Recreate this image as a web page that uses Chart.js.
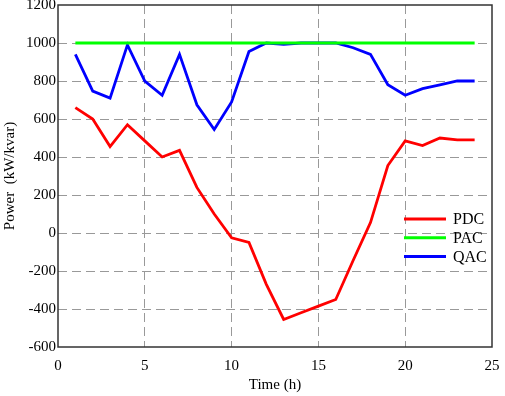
<!DOCTYPE html>
<html>
<head>
<meta charset="utf-8">
<script src="https://cdn.jsdelivr.net/npm/chart.js@4/dist/chart.umd.min.js"></script>
<style>
html,body{margin:0;padding:0;background:#fff;}
#wrap{width:505px;height:396px;}
</style>
</head>
<body>
<div id="wrap"><canvas id="c" width="505" height="396"></canvas></div>
<script>
const hours = [1,2,3,4,5,6,7,8,9,10,11,12,13,14,15,16,17,18,19,20,21,22,23,24];
const pdc = [660,600,455,570,485,400,435,240,100,-25,-50,-270,-455,-420,-385,-350,-145,55,355,485,460,500,490,490];
const pac = [1000,1000,1000,1000,1000,1000,1000,1000,1000,1000,1000,1000,1000,1000,1000,1000,1000,1000,1000,1000,1000,1000,1000,1000];
const qac = [940,747,710,990,800,725,940,675,545,690,955,1000,993,1000,1000,1000,975,940,780,725,760,780,800,800];
const seriesNames = ['PDC','PAC','QAC'];
const seriesColors = ['#ff0000','#00ff00','#0000ff'];
const xTicks = [0,5,10,15,20,25];
const yTicks = [-600,-400,-200,0,200,400,600,800,1000,1200];

const FONT = '"Liberation Serif","Times New Roman",serif';

function pts(vals){ return hours.map((h,i)=>({x:h,y:vals[i]})); }

const frame = {
  id:'frame',
  afterDatasetsDraw(chart){
    const a = chart.chartArea, ctx = chart.ctx;
    ctx.save();
    ctx.strokeStyle = '#333';
    ctx.lineWidth = 1.5;
    ctx.setLineDash([]);
    ctx.strokeRect(a.left, a.top, a.right-a.left, a.bottom-a.top);
    ctx.font = '16px ' + FONT;
    ctx.textBaseline = 'middle';
    ctx.textAlign = 'left';
    const x0 = 404, x1 = 446, y0 = 219, dy = 18.7;
    chart.data.datasets.forEach((ds,i)=>{
      const y = y0 + i*dy;
      ctx.strokeStyle = ds.borderColor;
      ctx.lineWidth = 3;
      ctx.beginPath(); ctx.moveTo(x0,y); ctx.lineTo(x1,y); ctx.stroke();
      ctx.fillStyle = '#000';
      ctx.fillText(ds.label, 453, y+1);
    });
    ctx.restore();
  }
};

new Chart(document.getElementById('c'), {
  type:'line',
  data:{
    datasets:[
      {label:seriesNames[0], data:pts(pdc), borderColor:seriesColors[0], borderWidth:2.8, pointRadius:0, tension:0, fill:false},
      {label:seriesNames[1], data:pts(pac), borderColor:seriesColors[1], borderWidth:2.8, pointRadius:0, tension:0, fill:false},
      {label:seriesNames[2], data:pts(qac), borderColor:seriesColors[2], borderWidth:2.8, pointRadius:0, tension:0, fill:false}
    ]
  },
  options:{
    responsive:false,
    animation:false,
    devicePixelRatio:1,
    layout:{padding:{left:0,right:13,top:5,bottom:0}},
    plugins:{legend:{display:false}, tooltip:{enabled:false}},
    scales:{
      x:{
        type:'linear', min:0, max:25,
        afterBuildTicks(s){ s.ticks = xTicks.map(v=>({value:v})); },
        afterFit(s){ s.height = 49; s.paddingLeft = 0; s.paddingRight = 0; },
        grid:{
          drawTicks:false, tickLength:0,
          color(c){ return (c.tick && (c.tick.value===0||c.tick.value===25)) ? 'rgba(0,0,0,0)' : '#999999'; },
          lineWidth:1
        },
        border:{display:false, dash:[9,5]},
        ticks:{color:'#000', font:{family:FONT,size:15}, padding:10, maxRotation:0, callback:(v)=>String(v)},
        title:{display:true, text:'Time (h)', color:'#000', font:{family:FONT,size:15}, padding:{top:0,bottom:2}}
      },
      y:{
        type:'linear', min:-600, max:1200,
        afterBuildTicks(s){ s.ticks = yTicks.map(v=>({value:v})); },
        afterFit(s){ s.width = 58; s.paddingTop = 0; s.paddingBottom = 0; },
        grid:{
          drawTicks:false, tickLength:0,
          color(c){ return (c.tick && (c.tick.value===-600||c.tick.value===1200)) ? 'rgba(0,0,0,0)' : '#999999'; },
          lineWidth:1
        },
        border:{display:false, dash:[9,5]},
        ticks:{color:'#000', font:{family:FONT,size:15}, padding:2, callback:(v)=>String(v)},
        title:{display:true, text:'Power  (kW/kvar)', color:'#000', font:{family:FONT,size:15}, padding:{top:1,bottom:0}}
      }
    }
  },
  plugins:[frame]
});
</script>
</body>
</html>
